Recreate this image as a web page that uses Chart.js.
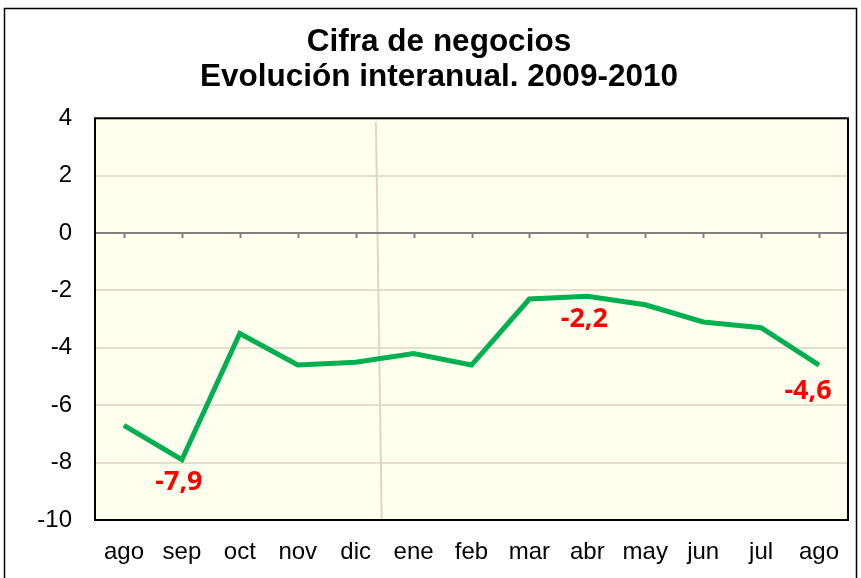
<!DOCTYPE html>
<html lang="es">
<head>
<meta charset="UTF-8">
<title>Cifra de negocios</title>
<script src="https://cdn.jsdelivr.net/npm/chart.js"></script>
<style>
  body { margin: 0; background: #fff; }
  #wrap { width: 861px; height: 578px; position: relative; }
</style>
</head>
<body>
<div id="wrap"><canvas id="grafico"></canvas></div>
<script>
const meses = ["ago", "sep", "oct", "nov", "dic", "ene", "feb", "mar", "abr", "may", "jun", "jul", "ago"];
const variacion = [-6.7, -7.9, -3.5, -4.6, -4.5, -4.2, -4.6, -2.3, -2.2, -2.5, -3.1, -3.3, -4.6];
const etiquetados = [1, 8, 12];
const titulo = ["Cifra de negocios", "Evolución interanual. 2009-2010"];

// fondo, marco, linea del cero y la raya vertical
const decorado = {
  id: "decorado",
  beforeDraw(chart) {
    const ctx = chart.ctx, a = chart.chartArea;
    ctx.save();
    ctx.strokeStyle = "#000";
    ctx.lineWidth = 1.5;
    ctx.strokeRect(4.5, 8.5, 852, 600);
    ctx.fillStyle = "#FFFFEE";
    ctx.fillRect(a.left, a.top, a.right - a.left, a.bottom - a.top);
    ctx.restore();
  },
  beforeDatasetsDraw(chart) {
    const ctx = chart.ctx, a = chart.chartArea;
    const x = chart.scales.x, y = chart.scales.y;
    ctx.save();
    // raya vertical entre dic y ene
    ctx.strokeStyle = "#DDD6C2";
    ctx.lineWidth = 2;
    ctx.beginPath();
    ctx.moveTo(x.getPixelForValue(4.35), a.top + 4);
    ctx.lineTo(x.getPixelForValue(4.45), a.bottom);
    ctx.stroke();
    // eje en cero con marcas
    const y0 = y.getPixelForValue(0);
    ctx.strokeStyle = "#808080";
    ctx.lineWidth = 2;
    ctx.beginPath();
    ctx.moveTo(a.left, y0);
    ctx.lineTo(a.right, y0);
    for (let i = 0; i < meses.length; i++) {
      const px = Math.round(x.getPixelForValue(i)) + 0.5;
      ctx.moveTo(px, y0);
      ctx.lineTo(px, y0 + 5);
    }
    ctx.stroke();
    ctx.restore();
  },
  afterDatasetsDraw(chart) {
    const ctx = chart.ctx, a = chart.chartArea;
    const x = chart.scales.x, y = chart.scales.y;
    ctx.save();
    ctx.strokeStyle = "#000";
    ctx.lineWidth = 2;
    ctx.strokeRect(a.left, a.top, a.right - a.left, a.bottom - a.top);
    ctx.fillStyle = "#FF0000";
    ctx.font = "bold 27px 'Open Sans', sans-serif";
    ctx.textAlign = "center";
    ctx.textBaseline = "middle";
    etiquetados.forEach(i => {
      let px = x.getPixelForValue(i) - 3;
      let dy = 23;
      if (i === meses.length - 1) { px -= 8; dy = 26; }
      const py = y.getPixelForValue(variacion[i]) + dy;
      ctx.fillText(variacion[i].toFixed(1).replace(".", ","), px, py);
    });
    ctx.restore();
  }
};

new Chart(document.getElementById("grafico"), {
  type: "line",
  data: {
    labels: meses,
    datasets: [{
      data: variacion,
      borderColor: "#00B050",
      borderWidth: 5,
      pointRadius: 0,
      tension: 0,
      fill: false
    }]
  },
  options: {
    responsive: true,
    maintainAspectRatio: false,
    animation: false,
    layout: { padding: { top: 0, right: 13, bottom: 0, left: 30 } },
    plugins: {
      legend: { display: false },
      tooltip: { enabled: false },
      title: {
        display: true,
        text: titulo,
        color: "#000",
        font: { family: "'Liberation Sans', Arial, sans-serif", size: 31.5, weight: "bold", lineHeight: 1.1 },
        padding: { top: 25, bottom: 24 }
      }
    },
    scales: {
      x: {
        offset: true,
        grid: { display: false, drawTicks: false },
        border: { display: false },
        ticks: {
          color: "#000",
          padding: 18,
          font: { family: "'Liberation Sans', Arial, sans-serif", size: 24 }
        },
        afterFit(s) { s.height = 58; }
      },
      y: {
        min: -10,
        max: 4,
        ticks: {
          stepSize: 2,
          color: "#000",
          padding: 23,
          font: { family: "'Liberation Sans', Arial, sans-serif", size: 24 }
        },
        grid: {
          drawTicks: false,
          lineWidth: 2,
          color: ctx => (ctx.tick && ctx.tick.value === 0) ? "rgba(0,0,0,0)" : "#E3DFCC"
        },
        border: { display: false },
        afterFit(s) { s.width = 65; }
      }
    }
  },
  plugins: [decorado]
});
</script>
</body>
</html>
